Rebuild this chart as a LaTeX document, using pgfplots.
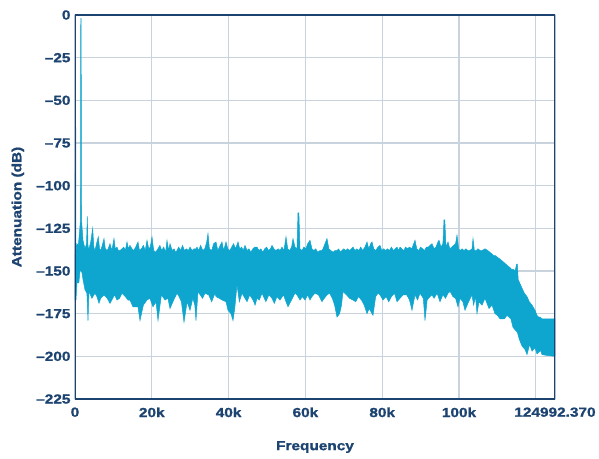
\documentclass[border=0pt]{standalone}
\usepackage{pgfplots}
\pgfplotsset{compat=1.18}
\usepackage{fontspec}
\setmainfont{Liberation Sans}[FakeStretch=1.17, BoldFeatures={FakeBold=1.2}]
\definecolor{navy}{HTML}{1D4470}
\definecolor{gridc}{HTML}{C9D3DD}
\definecolor{fillc}{HTML}{0EA5CE}
\begin{document}
\begin{tikzpicture}
\begin{axis}[
  name=ax,
  scale only axis,
  width=480bp, height=384bp,
  xmin=0, xmax=124992.37,
  ymin=-225, ymax=0,
  xtick={0,20000,40000,60000,80000,100000,120000,124992.37},
  xticklabels={0,20k,40k,60k,80k,100k,,124992.370},
  ytick={-225,-200,-175,-150,-125,-100,-75,-50,-25,0},
  yticklabels={–225,–200,–175,–150,–125,–100,–75,–50,–25,0},
  scaled x ticks=false,
  major tick length=0pt,
  grid=major,
  major grid style={color=gridc, line width=1.3bp},
  axis line style={draw=none},
  tick label style={font=\fontsize{13.2}{14}\selectfont\bfseries, text=navy},
  xticklabel style={yshift=-5bp},
  yticklabel style={xshift=-1bp},
  xlabel={Frequency},
  ylabel={Attenuation (dB)},
  every axis x label/.style={at={(axis description cs:0.5,-0.125)}, anchor=center, font=\fontsize{13.2}{14}\selectfont\bfseries, text=navy},
  every axis y label/.style={at={(axis description cs:-0.119,0.5)}, anchor=center, rotate=90, font=\fontsize{13.2}{14}\selectfont\bfseries, text=navy},
]
\addplot[fill=fillc, draw=fillc, line width=0.5bp] coordinates {
(0,-140) (100,-66) (200,-66) (260,-138) (520,-134) (860,-135) (1150,-128) (1420,-120) (1500,-2) (1600,-2) (1700,-120)
(2083,-132) (2600,-137) (3000,-134) (3203,-118) (3400,-136) (3646,-137) (4100,-133) (4609,-125) (4900,-136)
(5208,-138) (5600,-134) (6067,-130) (6400,-137) (6692,-138) (7100,-135) (7552,-131) (7900,-137) (8400,-138)
(8800,-136) (9114,-134) (9600,-138) (10156,-131) (10500,-137) (10937,-136) (11300,-138) (11718,-138) (12239,-137)
(12700,-136) (13100,-138) (13541,-133) (13900,-137) (14300,-135) (14843,-137) (15300,-138) (15800,-136) (16405,-133)
(16800,-138) (17300,-137) (17800,-135) (18300,-138) (18749,-132) (19200,-137) (19600,-136) (20051,-130) (20500,-138)
(21000,-139) (21600,-137) (22100,-135) (22600,-138) (23100,-136) (23600,-139) (23957,-132) (24400,-138) (24738,-134)
(25300,-138) (25800,-137) (26200,-139) (26561,-138) (27000,-136) (27500,-138) (28000,-135) (28500,-138) (29000,-137)
(29500,-138) (29946,-136) (30500,-138) (31000,-137) (31508,-137) (31769,-136) (32200,-138) (32700,-135) (33300,-138)
(33800,-137) (34300,-133) (34633,-128) (35000,-137) (35600,-138) (36100,-134) (36716,-133) (37200,-138) (37800,-135)
(38279,-133) (38700,-138) (39320,-133) (39800,-137) (40300,-138) (40800,-136) (41300,-134) (41800,-137) (42445,-133)
(42900,-137) (43400,-136) (43800,-138) (44268,-135) (44800,-138) (45300,-137) (45800,-139) (46300,-137) (46800,-136)
(47393,-136) (47900,-138) (48400,-137) (48900,-139) (49400,-137) (49900,-136) (50400,-138) (50900,-137) (51299,-135)
(51800,-137) (52300,-138) (52900,-137) (53400,-138) (53900,-136) (54400,-138) (54944,-130) (55400,-137) (55900,-138)
(56400,-136) (56767,-131) (57300,-136) (57800,-137) (58069,-116) (58300,-116) (58590,-137) (59100,-138) (59600,-136)
(60100,-137) (60600,-134) (61194,-132) (61700,-137) (62200,-138) (62700,-137) (63200,-139) (63800,-138) (64319,-138)
(64579,-137) (65100,-134) (65621,-131) (66100,-137) (66600,-138) (67200,-139) (67700,-138) (68225,-138) (68700,-137)
(69006,-139) (69500,-138) (70000,-137) (70500,-138) (71000,-137) (71500,-138) (72000,-137) (72391,-136) (72900,-138)
(73400,-137) (73900,-138) (74400,-136) (74900,-138) (75500,-136) (76037,-133) (76500,-137) (77000,-134) (77339,-133)
(77800,-137) (78300,-138) (78901,-136) (79422,-135) (79900,-138) (80400,-137) (80900,-138) (81400,-137) (81900,-138)
(82400,-136) (82900,-138) (83400,-137) (83849,-136) (84300,-138) (84630,-136) (85100,-137) (85600,-138) (86100,-136)
(86600,-137) (87100,-136) (87700,-137) (88200,-134) (88536,-132) (89000,-137) (89500,-138) (90000,-136) (90500,-137)
(91000,-138) (91500,-136) (92000,-136) (92442,-135) (92963,-134) (93500,-137) (94000,-136) (94500,-133) (94786,-132)
(95300,-136) (95800,-134) (96088,-120) (96300,-120) (96600,-136) (97129,-133) (97600,-137) (98100,-136) (98600,-135)
(99100,-134) (99473,-129) (99900,-137) (100254,-138) (100800,-137) (101300,-138) (101800,-137) (102300,-138) (102800,-138)
(103379,-137) (103639,-131) (104000,-138) (104500,-138) (104941,-137) (105500,-138) (106000,-138) (106764,-137) (107500,-138)
(108000,-139) (108587,-140) (109000,-141) (109500,-141) (110000,-142) (110670,-143) (111191,-144) (111700,-145) (112200,-146)
(112700,-147) (113274,-148) (113700,-149) (114200,-149) (114600,-150) (115000,-146) (115200,-146) (115400,-155) (116000,-158)
(116399,-160) (117000,-163) (117701,-165) (118300,-168) (119003,-170) (119784,-173) (120305,-176) (120700,-177) (121086,-177)
(121607,-178) (124992,-178)
(124992,-200) (123000,-199.5) (121607,-199) (121200,-196) (121086,-197) (120305,-198.6) (119784,-195) (119003,-197) (118400,-193)
(117701,-199) (117200,-196) (116399,-194) (115700,-190) (115200,-186) (114055,-183) (113500,-178) (112493,-176) (111800,-178)
(110670,-178) (110000,-176) (109368,-175) (108600,-170) (107800,-172) (106764,-166) (106000,-170) (105200,-168) (104681,-175)
(104300,-165) (103800,-170) (103379,-164) (102500,-168) (101556,-173) (101000,-168) (100254,-166) (99733,-171) (99100,-166)
(98400,-165) (97700,-162) (97129,-163) (96500,-166) (95800,-164) (95046,-168) (94300,-163) (93500,-166) (92963,-164)
(92442,-165) (91700,-167) (91140,-179) (90700,-166) (89838,-163) (89200,-167) (88536,-164) (87755,-173) (87100,-167)
(86400,-164) (85411,-164) (84630,-166) (83849,-168) (83200,-163) (82400,-165) (81700,-168) (81000,-165) (80200,-167)
(79422,-164) (78901,-163) (78300,-165) (77599,-176) (77100,-174) (76600,-172) (76037,-175) (75300,-170) (74600,-167)
(73800,-165) (73100,-168) (72391,-167) (71500,-166) (70700,-164) (69787,-162) (69400,-170) (68900,-175) (68225,-177)
(67600,-170) (67000,-166) (66300,-163) (65621,-164) (64579,-167) (64319,-168) (63400,-164) (62496,-163) (61700,-165)
(61194,-167) (60600,-164) (59892,-167) (59200,-165) (58590,-167) (57800,-164) (57288,-163) (56600,-166) (55465,-171)
(54944,-168) (54300,-164) (53382,-167) (52600,-165) (51900,-169) (51299,-166) (50500,-164) (49700,-168) (48695,-163)
(48000,-167) (47393,-166) (46900,-170) (46351,-167) (45500,-164) (44800,-168) (44268,-166) (43500,-163) (42800,-168)
(42185,-158) (41600,-172) (41143,-179) (40600,-175) (39841,-173) (39320,-168) (38279,-167) (37600,-166) (36716,-165)
(36456,-163) (35600,-168) (34800,-164) (33852,-163) (33200,-166) (32600,-164) (32029,-162) (31508,-179) (31200,-170)
(30700,-166) (29946,-173) (29200,-168) (28384,-180) (27700,-168) (27100,-165) (26561,-163) (25700,-167) (24738,-172)
(24200,-166) (23436,-167) (22500,-164) (21613,-179) (21100,-168) (20311,-171) (19500,-166) (18749,-167) (17800,-170)
(16926,-179) (16400,-171) (15103,-171) (14300,-167) (13801,-167) (13100,-165) (12239,-163) (11600,-166) (10937,-167)
(10300,-164) (9114,-169) (8400,-166) (7552,-164) (6692,-166) (6250,-169) (5700,-165) (5208,-163) (4400,-166)
(3646,-162) (3385,-179) (3100,-163) (2604,-161) (2083,-155) (1823,-151) (1600,-150) (1300,-150) (1000,-157)
(521,-157) (260,-167) (0,-167)
} -- cycle;
\draw[navy, line width=1.6bp] (rel axis cs:0,0) rectangle (rel axis cs:1,1);
\end{axis}
\pgfresetboundingbox
\path[use as bounding box] ([xshift=-75bp,yshift=-60bp]ax.south west) rectangle ([xshift=44bp,yshift=15bp]ax.north east);
\end{tikzpicture}
\end{document}
